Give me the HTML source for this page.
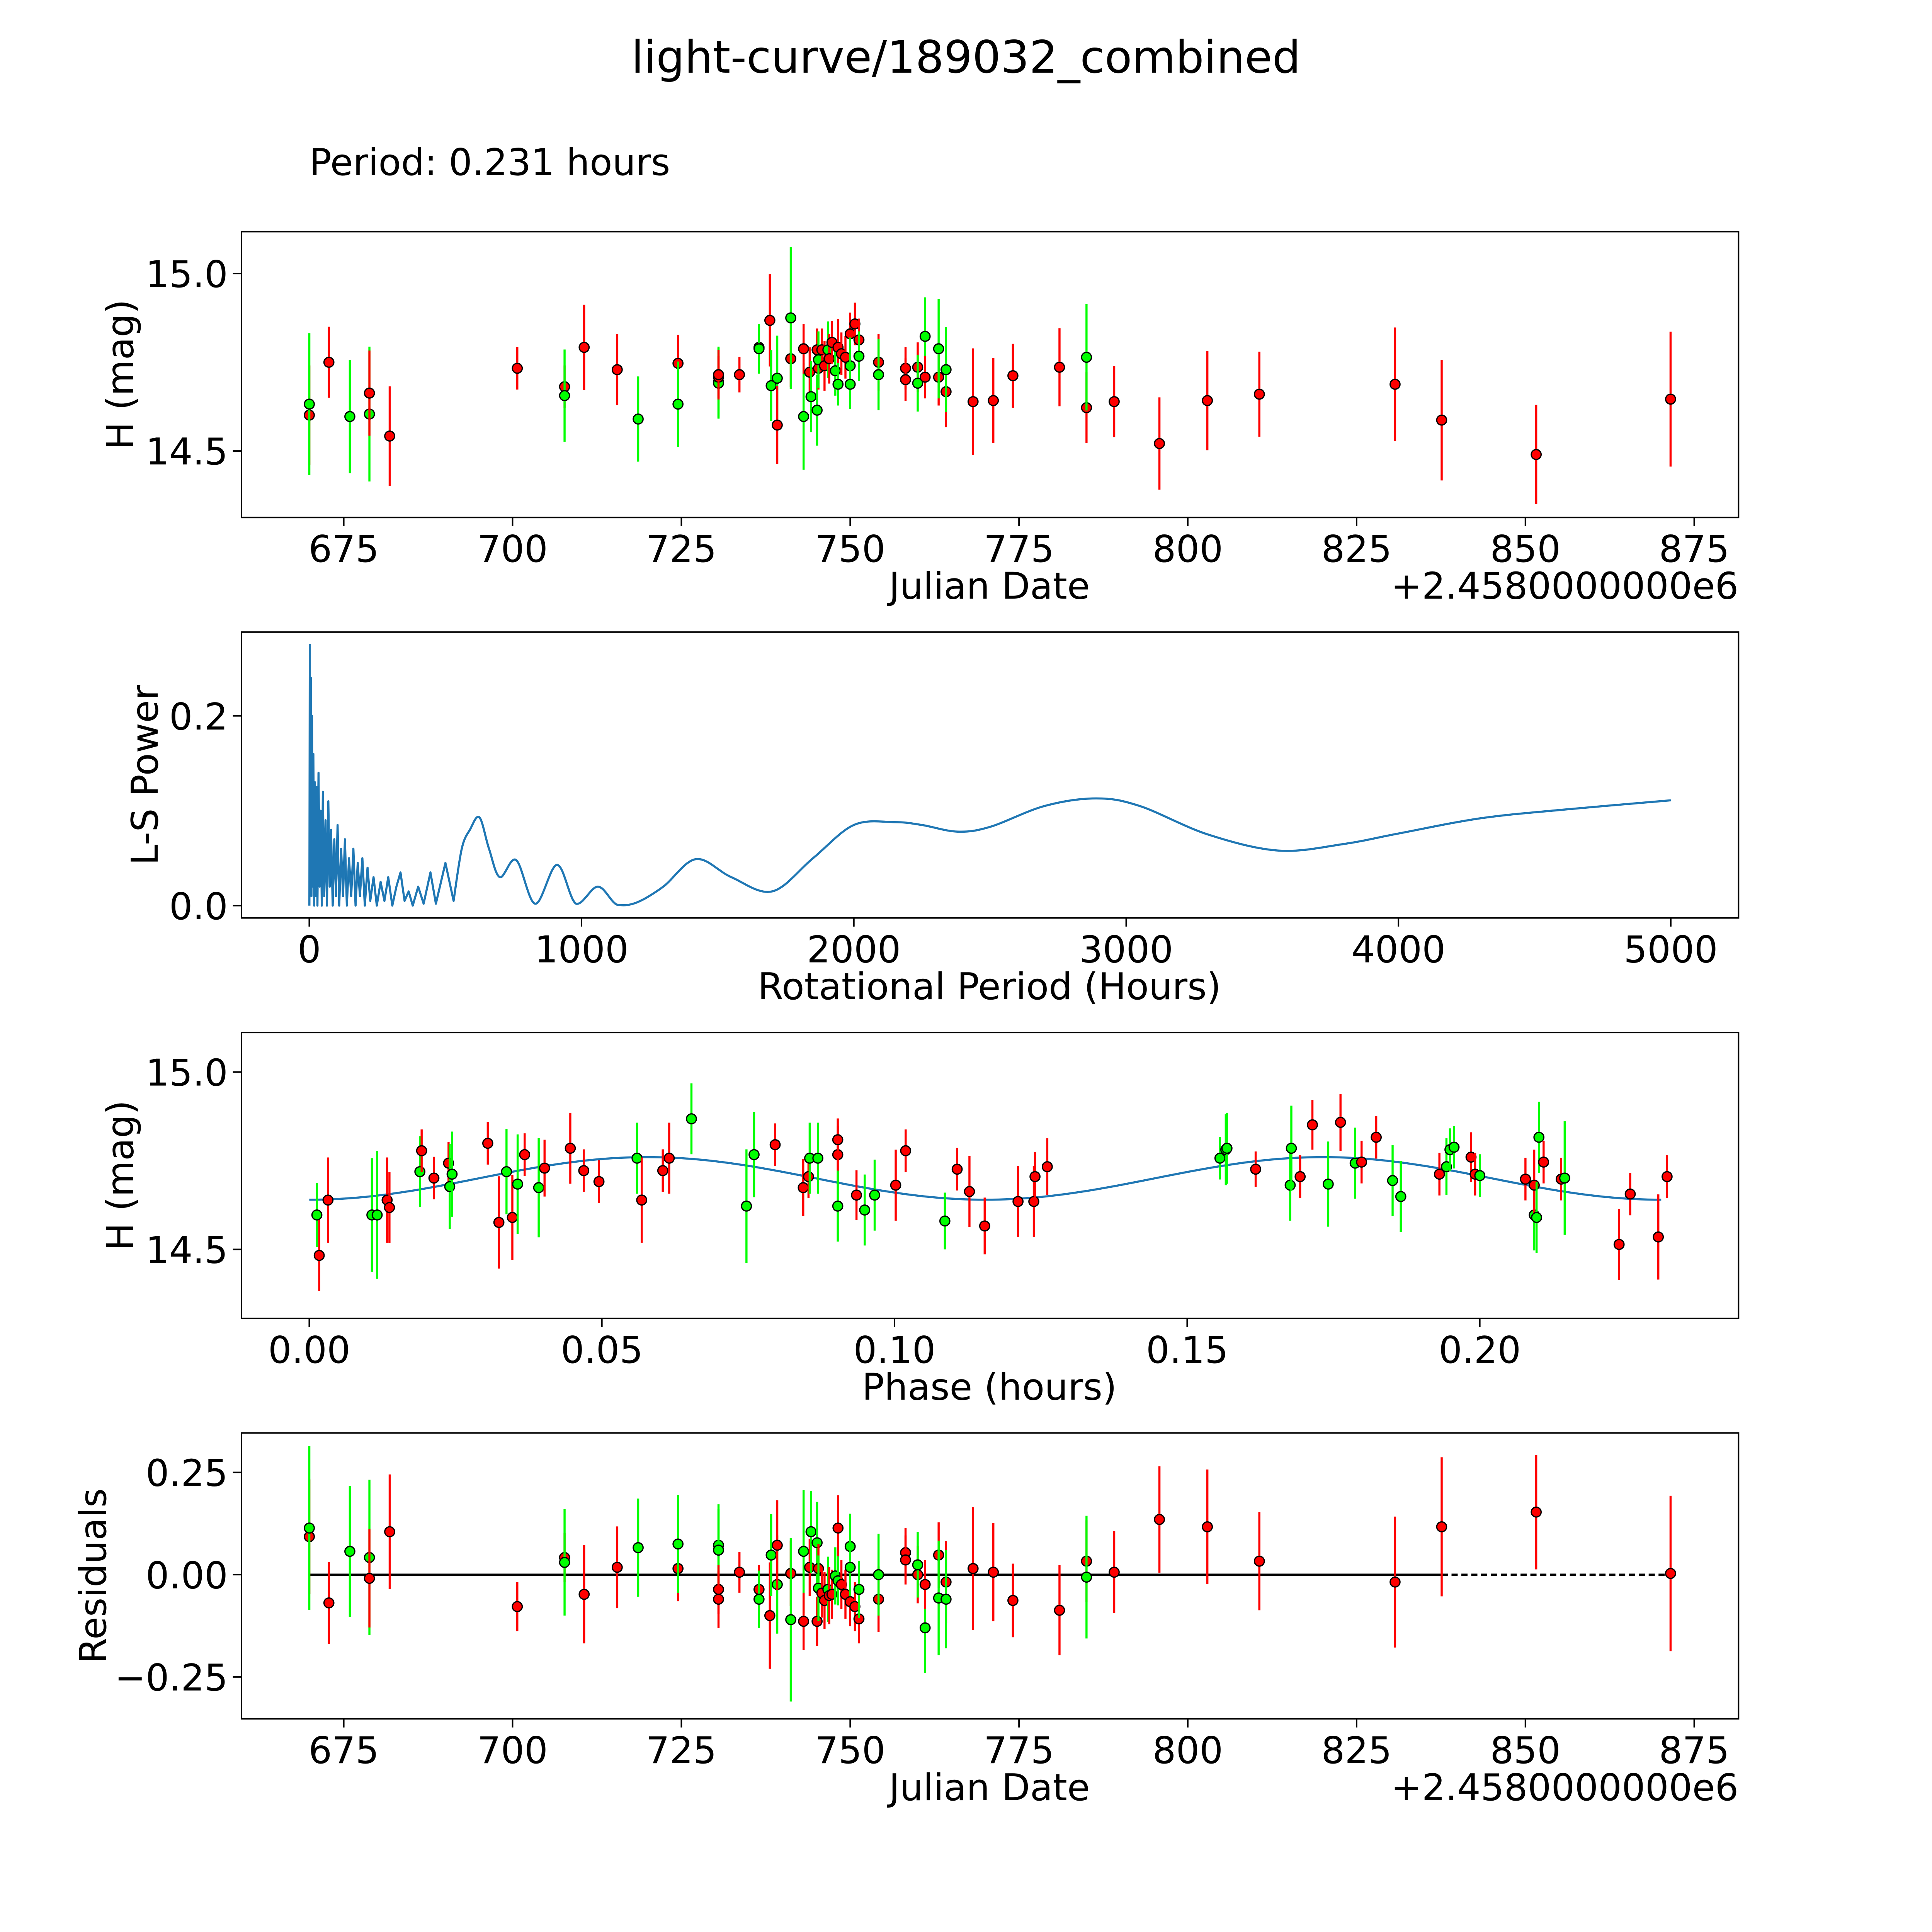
<!DOCTYPE html>
<html><head><meta charset="utf-8"><style>
html,body{margin:0;padding:0;background:#fff;overflow:hidden;width:100vw;height:100vh}
svg{display:block;width:100vw;height:100vh}
text{font-family:"DejaVu Sans","Liberation Sans",sans-serif;fill:#000}
</style></head><body>
<svg id="chart" xmlns="http://www.w3.org/2000/svg" viewBox="0 0 1568 1568" preserveAspectRatio="none">
<rect width="1568" height="1568" fill="#fff"/>
<text x="784" y="59" font-size="36.3" text-anchor="middle">light-curve/189032_combined</text>
<text x="251" y="142" font-size="30">Period: 0.231 hours</text>
</svg>
<script>
// ---- Light curve data (Julian date offset, magnitude, residual, error, filter color)
const jd = [669.9,669.9,672.8,675.9,678.8,678.8,681.8,700.7,707.7,707.7,710.6,715.5,718.6,724.5,724.5,730.5,730.5,730.5,730.5,733.6,736.5,736.5,738.1,738.3,739.2,739.2,741.2,741.2,743.1,743.1,744.0,744.2,745.1,745.1,745.3,745.3,745.8,746.2,746.7,746.9,747.3,747.8,748.2,748.2,748.7,749.3,750.0,750.0,750.0,750.7,751.3,751.3,754.2,754.2,758.2,758.2,760.0,760.0,761.1,761.1,763.1,763.1,764.2,764.2,768.2,771.2,774.1,781.0,785.0,785.0,789.1,795.8,802.9,810.6,830.7,837.6,851.6,871.5];
const mag = [14.601,14.632,14.750,14.597,14.604,14.663,14.542,14.733,14.681,14.656,14.792,14.729,14.590,14.747,14.632,14.694,14.691,14.708,14.715,14.715,14.792,14.788,14.868,14.684,14.705,14.573,14.760,14.875,14.597,14.788,14.722,14.653,14.785,14.615,14.733,14.757,14.785,14.740,14.785,14.760,14.806,14.726,14.792,14.688,14.774,14.764,14.830,14.740,14.688,14.858,14.813,14.767,14.750,14.715,14.733,14.701,14.736,14.691,14.823,14.708,14.708,14.788,14.667,14.729,14.639,14.642,14.712,14.736,14.622,14.764,14.639,14.521,14.642,14.660,14.688,14.587,14.490,14.646];
const resid = [0.093,0.114,-0.069,0.057,0.042,-0.009,0.105,-0.078,0.042,0.030,-0.048,0.018,0.066,0.015,0.075,0.072,0.060,-0.036,-0.060,0.006,-0.036,-0.060,-0.100,0.048,-0.024,0.072,0.003,-0.110,0.057,-0.114,0.018,0.105,-0.114,0.078,0.015,-0.033,-0.045,-0.063,-0.036,-0.051,-0.048,-0.003,0.114,-0.015,-0.024,-0.048,-0.066,0.069,0.018,-0.078,-0.108,-0.036,-0.060,0.000,0.054,0.036,0.000,0.024,-0.130,-0.024,0.048,-0.057,-0.018,-0.060,0.015,0.006,-0.063,-0.087,0.033,-0.006,0.006,0.135,0.117,0.033,-0.018,0.117,0.153,0.003];
const err = [0.14,0.2,0.1,0.16,0.19,0.12,0.14,0.06,0.06,0.13,0.12,0.1,0.12,0.08,0.12,0.1,0.1,0.06,0.07,0.05,0.06,0.07,0.13,0.1,0.12,0.11,0.08,0.2,0.15,0.07,0.07,0.1,0.06,0.1,0.06,0.08,0.06,0.07,0.08,0.07,0.06,0.07,0.08,0.06,0.06,0.06,0.06,0.08,0.07,0.06,0.06,0.07,0.08,0.1,0.06,0.06,0.07,0.08,0.11,0.06,0.08,0.14,0.1,0.12,0.15,0.12,0.09,0.11,0.1,0.15,0.1,0.13,0.14,0.12,0.16,0.17,0.14,0.19];
const band = ['r','g','r','g','g','r','r','r','r','g','r','r','g','r','g','g','g','r','r','r','r','g','r','g','g','r','r','g','g','r','r','g','r','g','r','g','r','r','g','r','r','g','r','g','r','r','r','g','g','r','r','g','r','g','r','r','r','g','g','r','r','g','r','g','r','r','r','r','r','g','r','r','r','r','r','r','r','r'];

// ---- Phase-folded data
const phase = [0.0013,0.0017,0.0032,0.0107,0.0116,0.0133,0.0137,0.0189,0.0192,0.0213,0.0238,0.0240,0.0244,0.0305,0.0324,0.0337,0.0347,0.0356,0.0368,0.0392,0.0402,0.0446,0.0469,0.0495,0.0560,0.0568,0.0604,0.0615,0.0653,0.0747,0.0760,0.0796,0.0844,0.0853,0.0855,0.0869,0.0903,0.0903,0.0903,0.0935,0.0949,0.0966,0.1002,0.1019,0.1086,0.1107,0.1128,0.1154,0.1211,0.1238,0.1240,0.1261,0.1556,0.1566,0.1568,0.1617,0.1676,0.1678,0.1693,0.1714,0.1741,0.1762,0.1787,0.1798,0.1823,0.1851,0.1865,0.1931,0.1943,0.1949,0.1956,0.1985,0.1992,0.2000,0.2078,0.2093,0.2093,0.2097,0.2101,0.2109,0.2139,0.2145,0.2238,0.2257,0.2305,0.2320];
const phaseMag = [14.597,14.483,14.639,14.597,14.597,14.639,14.618,14.719,14.778,14.701,14.743,14.677,14.712,14.799,14.576,14.719,14.590,14.684,14.767,14.674,14.729,14.785,14.722,14.691,14.757,14.639,14.722,14.757,14.868,14.622,14.767,14.795,14.674,14.705,14.757,14.757,14.767,14.809,14.622,14.653,14.611,14.653,14.681,14.778,14.580,14.726,14.663,14.566,14.635,14.635,14.705,14.733,14.757,14.781,14.785,14.726,14.681,14.785,14.705,14.851,14.684,14.858,14.743,14.746,14.816,14.694,14.649,14.712,14.733,14.781,14.788,14.760,14.712,14.708,14.698,14.597,14.681,14.590,14.816,14.746,14.698,14.701,14.514,14.656,14.535,14.705];
const phaseErr = [0.09,0.1,0.12,0.16,0.18,0.12,0.1,0.1,0.06,0.06,0.06,0.12,0.12,0.06,0.13,0.12,0.12,0.14,0.06,0.14,0.08,0.1,0.06,0.06,0.1,0.12,0.06,0.1,0.1,0.16,0.12,0.06,0.08,0.06,0.1,0.1,0.08,0.06,0.1,0.07,0.1,0.1,0.1,0.06,0.08,0.06,0.1,0.08,0.1,0.1,0.07,0.08,0.06,0.1,0.1,0.05,0.1,0.12,0.06,0.07,0.12,0.08,0.1,0.06,0.06,0.1,0.1,0.06,0.08,0.06,0.06,0.07,0.06,0.06,0.06,0.1,0.1,0.1,0.1,0.06,0.06,0.16,0.1,0.06,0.12,0.06];
const phaseBand = ['g','r','r','g','g','r','r','g','r','r','r','g','g','r','r','g','r','g','r','g','r','r','r','r','g','r','r','r','g','g','g','r','r','r','g','g','r','r','g','r','g','g','r','r','g','r','r','r','r','r','r','r','g','g','g','r','g','g','r','r','g','r','g','r','r','g','g','r','g','g','g','r','r','g','r','g','r','g','g','r','r','g','r','r','r','r'];
const fitMean = 14.70, fitAmp = 0.06, fitPeriod = 0.231;

// ---- Lomb-Scargle periodogram
const lsPeriod = [0.5,2,4,6,8,10,12,15,18,21,24,27,30,34,38,42,46,50,55,60,65,70,75,80,86,92,98,104,110,117,124,131,138,146,154,162,170,178,186,195,204,214,224,236,248,262,276,290,305,320,335,350,365,380,400,420,445,465,500,530];
const lsPower = [0,0.275,0.02,0.24,0.01,0.2,0.02,0.16,0.0,0.13,0.01,0.125,0.0,0.14,0.02,0.1,0,0.12,0.01,0.09,0,0.11,0.02,0.08,0,0.07,0.01,0.085,0,0.06,0.01,0.07,0,0.05,0.01,0.06,0,0.045,0.01,0.05,0,0.04,0.005,0.03,0,0.025,0.005,0.03,0,0.02,0.035,0.005,0.015,0,0.02,0.002,0.035,0.002,0.045,0.005];
const lsSmoothPeriod = [530,560,590,625,660,700,760,830,910,980,1060,1130,1200,1300,1420,1550,1700,1850,2000,2150,2250,2380,2500,2700,2890,3050,3300,3560,3800,4000,4300,4600,5000];
const lsSmoothPower = [0.005,0.06,0.08,0.093,0.06,0.03,0.048,0.002,0.043,0.002,0.02,0.001,0.003,0.02,0.049,0.03,0.015,0.05,0.085,0.088,0.085,0.078,0.083,0.105,0.113,0.105,0.075,0.058,0.065,0.076,0.092,0.101,0.111];

const jdTicks = [675,700,725,750,775,800,825,850,875];
const magTicks = [14.5,15.0];
const lsXTicks = [0,1000,2000,3000,4000,5000];
const lsYTicks = [0.0,0.2];
const phaseTicks = [0.00,0.05,0.10,0.15,0.20];
const residTicks = [-0.25,0.00,0.25];

const NS='http://www.w3.org/2000/svg';
const svg=document.getElementById('chart');
function el(tag,attrs,parent){const e=document.createElementNS(NS,tag);for(const k in attrs)e.setAttribute(k,attrs[k]);(parent||svg).appendChild(e);return e;}
function lin(d0,d1,r0,r1){return v=>r0+(v-d0)/(d1-d0)*(r1-r0);}
const L=196,R=1411,FS=30;
const COL={r:'#ff0000',g:'#00ff00'};

function axes(name,top,bot,xs,ys,xt,yt,xfmt,yfmt,xlabel,ylabel,ylx,offsetText){
  const g=el('g',{});
  
  
  const f=el('rect',{x:L,y:top,width:R-L,height:bot-top,fill:'none',stroke:'#000','stroke-width':1.2},g);
  
  
  xt.forEach(v=>{const x=xs(v);
    el('line',{x1:x,x2:x,y1:bot,y2:bot+7,stroke:'#000','stroke-width':1.2},g);
    const t=el('text',{x:x,y:bot+36,'font-size':FS,'text-anchor':'middle'},g);t.textContent=xfmt(v);
    
    });
  yt.forEach(v=>{const y=ys(v);
    el('line',{x1:L-7,x2:L,y1:y,y2:y,stroke:'#000','stroke-width':1.2},g);
    const t=el('text',{x:L-11,y:y+11,'font-size':FS,'text-anchor':'end'},g);t.textContent=yfmt(v);
    
    });
  const xl=el('text',{x:803,y:bot+66,'font-size':FS,'text-anchor':'middle'},g);xl.textContent=xlabel;
  
  
  const cy=(top+bot)/2;
  const yl=el('text',{x:ylx,y:cy,'font-size':FS,'text-anchor':'middle',transform:`rotate(-90 ${ylx} ${cy})`},g);yl.textContent=ylabel;
  
  
  if(offsetText){const o=el('text',{x:R,y:bot+66,'font-size':FS,'text-anchor':'end'},g);o.textContent=offsetText;
    
    }
  return g;
}
function point(g,x,y,e1,e2,c){
  const ln=el('line',{x1:x,x2:x,y1:e1,y2:e2,stroke:c,'stroke-width':1.7},g);
  
  
  const ci=el('circle',{cx:x,cy:y,r:4,fill:c,stroke:'#000','stroke-width':1},g);
  
  
}
const jdScale=lin(700,875,416,1375);
const f1=v=>v.toFixed(1), f0=v=>String(v), f2=v=>v.toFixed(2);
const fneg=v=>(v<0?'\u2212':'')+Math.abs(v).toFixed(2);

// Panel 1
{const ys=lin(15.0,14.5,222,366);
 const g=axes('light-curve-panel',188,420,jdScale,ys,jdTicks,magTicks,f0,f1,'Julian Date','H (mag)',108,'+2.4580000000e6');
 jd.forEach((d,i)=>point(g,jdScale(d),ys(mag[i]),ys(mag[i]+err[i]),ys(mag[i]-err[i]),COL[band[i]]));}

// Panel 2
{const xs=lin(0,5000,251,1356), ys=lin(0,0.2,735,581);
 const g=axes('periodogram-panel',513,745,xs,ys,lsXTicks,lsYTicks,f0,f1,'Rotational Period (Hours)','L-S Power',128,null);
 let d='';lsPeriod.forEach((p,i)=>{d+=(i?'L':'M')+xs(p).toFixed(2)+','+ys(lsPower[i]).toFixed(2);});
 const pts=lsSmoothPeriod.map((p,i)=>[xs(p),ys(lsSmoothPower[i])]);
 for(let i=0;i<pts.length-1;i++){const p0=pts[Math.max(0,i-1)],p1=pts[i],p2=pts[i+1],p3=pts[Math.min(pts.length-1,i+2)];
   const c1=[p1[0]+(p2[0]-p0[0])/6,p1[1]+(p2[1]-p0[1])/6],c2=[p2[0]-(p3[0]-p1[0])/6,p2[1]-(p3[1]-p1[1])/6];
   c1[1]=Math.min(c1[1],ys(0));c2[1]=Math.min(c2[1],ys(0));
   d+=`C${c1[0].toFixed(2)},${c1[1].toFixed(2)} ${c2[0].toFixed(2)},${c2[1].toFixed(2)} ${p2[0].toFixed(2)},${p2[1].toFixed(2)}`;}
 const p=el('path',{d:d,fill:'none',stroke:'#1f77b4','stroke-width':1.7,'stroke-linejoin':'round'},g);
 
 }

// Panel 3
{const xs=lin(0,0.2,251,1201), ys=lin(15.0,14.5,870,1014);
 const g=axes('phase-folded-panel',838,1070,xs,ys,phaseTicks,magTicks,f2,f1,'Phase (hours)','H (mag)',108,null);
 let d='';for(let i=0;i<=200;i++){const p=fitPeriod*i/200;const m=fitMean-fitAmp*Math.cos(2*Math.PI*2*p/fitPeriod);d+=(i?'L':'M')+xs(p).toFixed(2)+','+ys(m).toFixed(2);}
 const fl=el('path',{d:d,fill:'none',stroke:'#1f77b4','stroke-width':1.7},g);
 
 
 phase.forEach((p,i)=>point(g,xs(p),ys(phaseMag[i]),ys(phaseMag[i]+phaseErr[i]),ys(phaseMag[i]-phaseErr[i]),COL[phaseBand[i]]));}

// Panel 4
{const ys=lin(0,0.25,1278,1195);
 const g=axes('residuals-panel',1163,1395,jdScale,ys,jdTicks,residTicks,f0,fneg,'Julian Date','Residuals',86,'+2.4580000000e6');
 const z1=el('line',{x1:jdScale(669.9),x2:jdScale(837.6),y1:ys(0),y2:ys(0),stroke:'#000','stroke-width':1.7},g);
 
 
 const z2=el('line',{x1:jdScale(837.6),x2:jdScale(871.5),y1:ys(0),y2:ys(0),stroke:'#000','stroke-width':1.7,'stroke-dasharray':'5,3'},g);
 
 
 jd.forEach((d,i)=>point(g,jdScale(d),ys(resid[i]),ys(resid[i]+err[i]),ys(resid[i]-err[i]),COL[band[i]]));}
</script>
</body></html>
